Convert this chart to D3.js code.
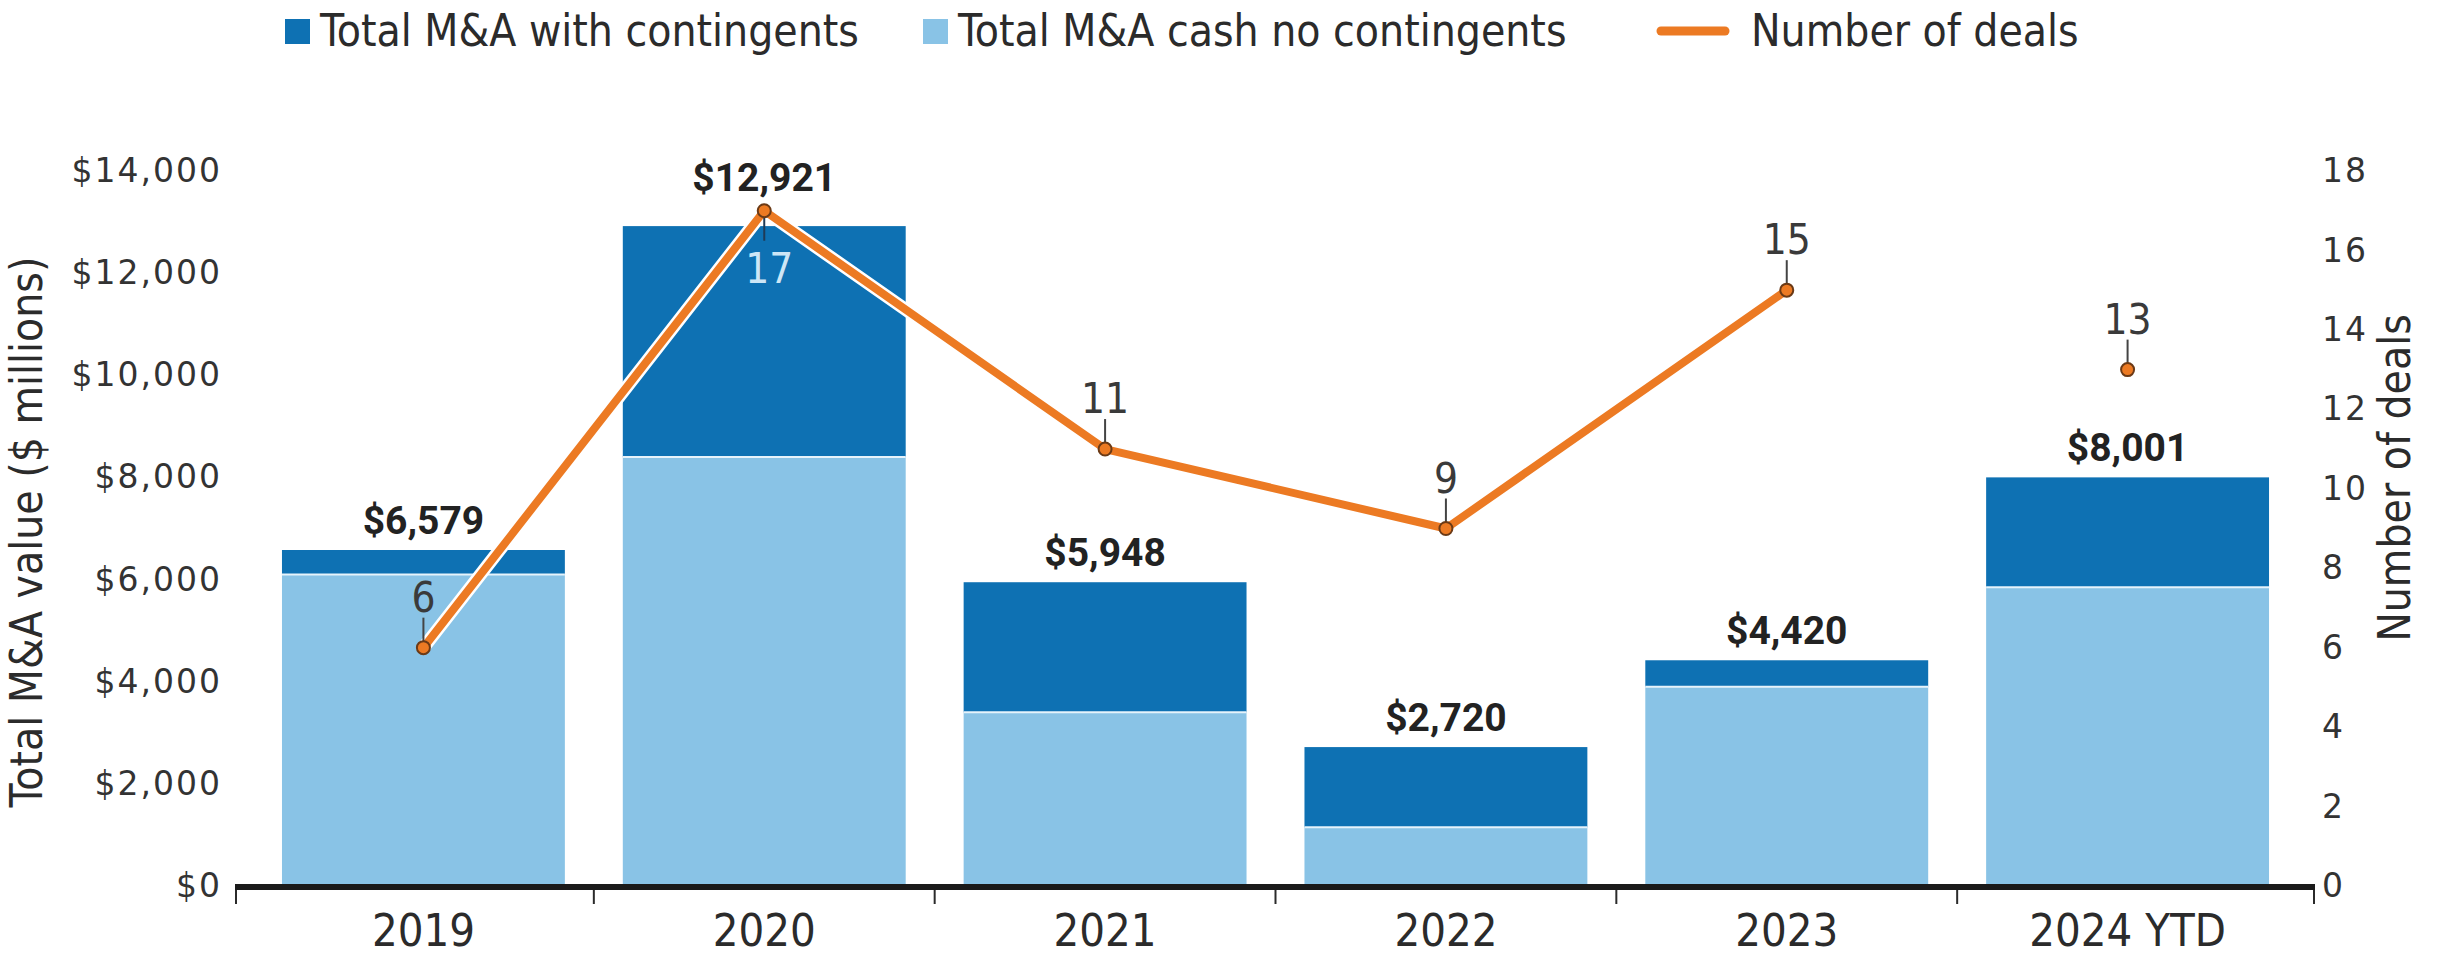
<!DOCTYPE html>
<html>
<head>
<meta charset="utf-8">
<script src="https://cdn.jsdelivr.net/npm/d3@7"></script>
<style>
  body { margin: 0; background: #fff; }
  svg { display: block; }
  .narrow { font-family: "Liberation Sans Narrow", "DejaVu Sans Condensed", Roboto, sans-serif; }
  .tick-label { font-family: "DejaVu Sans", sans-serif; }
</style>
</head>
<body>
<script>
// values
var years = ["2019", "2020", "2021", "2022", "2023", "2024 YTD"];
var cashNoContingents = [6100, 8400, 3400, 1150, 3900, 5850];
var withContingents = [479, 4521, 2548, 1570, 520, 2151];
var totals = [6579, 12921, 5948, 2720, 4420, 8001];
var deals = [6, 17, 11, 9, 15, 13];
var connectedYears = ["2019", "2020", "2021", "2022", "2023"]; // 2024 YTD is a lone dot

var leftTicks = [0, 2000, 4000, 6000, 8000, 10000, 12000, 14000];
var rightTicks = [0, 2, 4, 6, 8, 10, 12, 14, 16, 18];

var darkBlue = "#0e71b3";
var lightBlue = "#89c3e6";
var orange = "#ec7a23";
var ink = "#2b2b2b";

var width = 2438, height = 959;
var baseY = 886, plotTop = 171;

var svg = d3.select("body").append("svg")
    .attr("width", width)
    .attr("height", height);

// scales
var x = d3.scaleBand()
    .domain(years)
    .range([253, 2298])
    .paddingInner(0.17)
    .paddingOuter(0.085);

var y = d3.scaleLinear().domain([0, 14000]).range([baseY, plotTop]);
var y2 = d3.scaleLinear().domain([0, 18]).range([baseY, plotTop]);

var table = years.map(function (yr, i) {
    return { year: yr, cash: cashNoContingents[i], cont: withContingents[i], total: totals[i], deals: deals[i] };
});

var stack = d3.stack().keys(["cash", "cont"])(table);
var fills = { cash: lightBlue, cont: darkBlue };

// bars
svg.append("g").selectAll("g")
    .data(stack)
    .join("g")
    .attr("fill", function (s) { return fills[s.key]; })
    .selectAll("rect")
    .data(function (s) { return s; })
    .join("rect")
    .attr("x", function (d) { return x(d.data.year); })
    .attr("width", x.bandwidth())
    .attr("y", function (d) { return y(d[1]); })
    .attr("height", function (d) { return y(d[0]) - y(d[1]); });

// thin white seam between the two parts
svg.append("g").selectAll("line")
    .data(table)
    .join("line")
    .attr("x1", function (d) { return x(d.year); })
    .attr("x2", function (d) { return x(d.year) + x.bandwidth(); })
    .attr("y1", function (d) { return y(d.cash); })
    .attr("y2", function (d) { return y(d.cash); })
    .attr("stroke", "#e6f3fb")
    .attr("stroke-width", 2);

// left axis labels
svg.append("g")
    .attr("transform", "translate(222,0)")
    .call(d3.axisLeft(y).tickValues(leftTicks).tickSize(0).tickPadding(0)
        .tickFormat(function (d) { return "$" + d3.format(",")(d); }))
    .call(function (g) { g.select(".domain").remove(); })
    .call(function (g) {
        g.selectAll("text")
            .attr("class", "tick-label")
            .attr("font-size", 33)
            .attr("letter-spacing", 2)
            .attr("fill", "#333");
    });

// right axis labels
svg.append("g")
    .attr("transform", "translate(2322,0)")
    .call(d3.axisRight(y2).tickValues(rightTicks).tickSize(0).tickPadding(0))
    .call(function (g) { g.select(".domain").remove(); })
    .call(function (g) {
        g.selectAll("text")
            .attr("class", "tick-label")
            .attr("font-size", 33)
            .attr("letter-spacing", 2)
            .attr("fill", "#333");
    });

// axis titles
svg.append("text")
    .attr("class", "narrow")
    .attr("transform", "translate(42,532) rotate(-90)")
    .attr("text-anchor", "middle")
    .attr("font-size", 44)
    .attr("fill", ink)
    .text("Total M&A value ($ millions)");

svg.append("text")
    .attr("class", "narrow")
    .attr("transform", "translate(2410,478) rotate(-90)")
    .attr("text-anchor", "middle")
    .attr("font-size", 44)
    .attr("fill", ink)
    .text("Number of deals");

// x axis: thick base line with small separators
var xLeft = 236, xRight = 2314;
var separators = [xLeft].concat(years.slice(1).map(function (yr) {
    return x(yr) - x.step() * x.paddingInner() / 2;
})).concat([xRight]);

svg.append("g").selectAll("line")
    .data(separators)
    .join("line")
    .attr("x1", function (d) { return d; })
    .attr("x2", function (d) { return d; })
    .attr("y1", baseY)
    .attr("y2", baseY + 18)
    .attr("stroke", ink)
    .attr("stroke-width", 2);

svg.append("line")
    .attr("x1", xLeft - 1)
    .attr("x2", xRight + 1)
    .attr("y1", baseY + 1)
    .attr("y2", baseY + 1)
    .attr("stroke", "#1a1a1a")
    .attr("stroke-width", 6);

svg.append("g").selectAll("text")
    .data(years)
    .join("text")
    .attr("class", "narrow")
    .attr("x", function (d) { return x(d) + x.bandwidth() / 2; })
    .attr("y", 946)
    .attr("text-anchor", "middle")
    .attr("font-size", 45)
    .attr("fill", ink)
    .text(function (d) { return d; });

// deals line
var cx = function (d) { return x(d.year) + x.bandwidth() / 2; };
var line = d3.line().x(cx).y(function (d) { return y2(d.deals); });
var linked = table.filter(function (d) { return connectedYears.indexOf(d.year) >= 0; });

svg.append("path")
    .datum(linked)
    .attr("d", line)
    .attr("fill", "none")
    .attr("stroke", "#fff")
    .attr("stroke-width", 13)
    .attr("stroke-linejoin", "round");

svg.append("path")
    .datum(linked)
    .attr("d", line)
    .attr("fill", "none")
    .attr("stroke", orange)
    .attr("stroke-width", 8)
    .attr("stroke-linejoin", "round");

// a point sitting just above its bar -> its label goes below the point
function crowded(d) {
    var py = y2(d.deals), by = y(d.total);
    return py < by && by - py < 60;
}

// leaders + deal labels
var dealG = svg.append("g").selectAll("g")
    .data(table)
    .join("g")
    .attr("transform", function (d) { return "translate(" + cx(d) + "," + y2(d.deals) + ")"; });

dealG.append("line")
    .attr("x1", 0).attr("x2", 0)
    .attr("y1", function (d) { return crowded(d) ? 6 : -6; })
    .attr("y2", function (d) { return crowded(d) ? 30 : -30; })
    .attr("stroke", function (d) { return crowded(d) ? "#1f3b57" : "#444"; })
    .attr("stroke-width", 2);

dealG.append("circle")
    .attr("r", 6.5)
    .attr("fill", orange)
    .attr("stroke", "#6b3a16")
    .attr("stroke-width", 2);

dealG.append("text")
    .attr("class", "narrow")
    .attr("x", function (d) { return crowded(d) ? 5 : 0; })
    .attr("y", function (d) { return crowded(d) ? 72 : -36; })
    .attr("text-anchor", "middle")
    .attr("font-size", 42)
    .attr("fill", function (d) { return crowded(d) ? "#cde6f6" : "#3a3a3a"; })
    .text(function (d) { return d.deals; });

// total value labels
svg.append("g").selectAll("text")
    .data(table)
    .join("text")
    .attr("x", cx)
    .attr("y", function (d) { return crowded(d) ? y2(d.deals) - 20 : y(d.total) - 16; })
    .attr("text-anchor", "middle")
    .attr("font-family", "Roboto, sans-serif")
    .attr("font-weight", "bold")
    .attr("font-size", 39)
    .attr("fill", "#222")
    .text(function (d) { return "$" + d3.format(",")(d.total); });

// legend
var legend = svg.append("g");
var legendItems = [
    { label: "Total M&A with contingents", color: darkBlue, type: "box", x: 285 },
    { label: "Total M&A cash no contingents", color: lightBlue, type: "box", x: 923 },
    { label: "Number of deals", color: orange, type: "line", x: 1657 }
];

legendItems.forEach(function (it) {
    if (it.type === "box") {
        legend.append("rect")
            .attr("x", it.x).attr("y", 19)
            .attr("width", 25).attr("height", 25)
            .attr("fill", it.color);
    } else {
        legend.append("line")
            .attr("x1", it.x + 4).attr("x2", it.x + 68)
            .attr("y1", 31).attr("y2", 31)
            .attr("stroke", it.color)
            .attr("stroke-width", 9)
            .attr("stroke-linecap", "round");
    }
    legend.append("text")
        .attr("class", "narrow")
        .attr("x", it.type === "box" ? it.x + 35 : it.x + 94)
        .attr("y", 46)
        .attr("font-size", 44)
        .attr("fill", ink)
        .text(it.label);
});
</script>
</body>
</html>
